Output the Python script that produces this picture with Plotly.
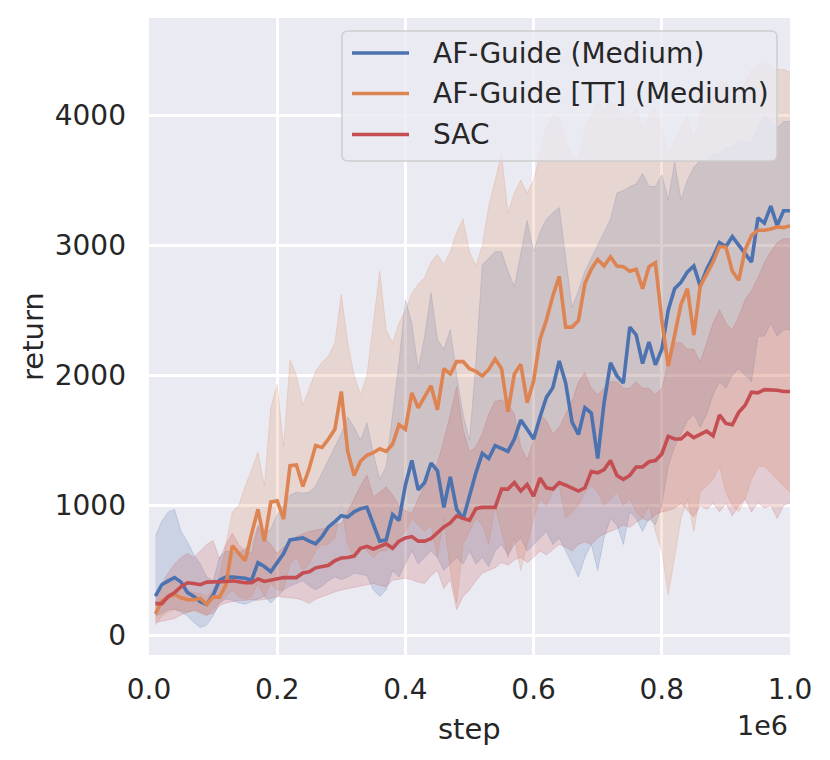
import plotly.graph_objects as go

# ---------------- data ----------------
steps = [10000 * i for i in range(1, 101)]

blue_mean = [302, 390, 420, 445, 410, 330, 300, 260, 240, 310,
             425, 450, 450, 445, 440, 425, 560, 530, 490, 560,
             630, 735, 745, 750, 725, 705, 760, 835, 875, 920,
             910, 950, 975, 985, 855, 725, 735, 930, 885, 1155,
             1345, 1120, 1175, 1325, 1265, 985, 1220, 970, 895, 1085,
             1250, 1400, 1360, 1460, 1435, 1415, 1510, 1655, 1585, 1510,
             1680, 1830, 1905, 2110, 1940, 1640, 1545, 1750, 1710, 1360,
             1790, 2095, 1995, 1940, 2370, 2310, 2090, 2255, 2080, 2200,
             2500, 2665, 2715, 2795, 2840, 2685, 2815, 2910, 3020, 2990,
             3065, 3000, 2925, 2870, 3210, 3170, 3300, 3150, 3265, 3265]
blue_lo = [150, 170, 200, 200, 180, 150, 100, 60, 80, 150,
           250, 280, 270, 250, 240, 260, 280, 300, 250, 300,
           350, 380, 400, 420, 380, 350, 380, 420, 450, 430,
           450, 480, 470, 460, 350, 300, 350, 500, 450, 550,
           650, 550, 600, 650, 600, 500, 550, 600, 550, 650,
           550, 600, 530, 650, 700, 620, 700, 750, 650, 700,
           750, 800, 700, 750, 650, 550, 450, 600, 700, 500,
           750, 900, 850, 700, 950, 900, 800, 900, 850, 1000,
           1300, 1450, 1550, 1650, 1700, 1600, 1700, 1850, 1950, 1900,
           2000, 2050, 2000, 1950, 2300, 2300, 2400, 2300, 2350, 2350]
blue_hi = [760, 880, 950, 970, 800, 720, 620, 550, 450, 420,
           600, 650, 640, 630, 670, 700, 850, 780, 820, 930,
           1000, 1080, 1100, 1094, 1100, 1150, 1250, 1350, 1450, 1550,
           1680, 1600, 1500, 1634, 1400, 1200, 1300, 1700, 2100, 2580,
           2400, 2050, 2300, 2635, 2275, 2200, 2350, 2000, 1700, 1500,
           2100, 2850, 2900, 2950, 2950, 2800, 2680, 2950, 3190, 2950,
           3100, 3200, 3250, 3290, 2900, 2520, 2650, 2800, 2900, 3000,
           3100, 3200, 3400, 3420, 3450, 3470, 3550, 3450, 3450, 3540,
           3350, 3640, 3350, 3500, 3600, 3650, 3650, 3700, 3700, 3750,
           3750, 3800, 3800, 3790, 3900, 4000, 3950, 3900, 3950, 3950]

orange_mean = [165, 265, 295, 315, 290, 275, 275, 285, 240, 295,
               295, 390, 690, 630, 575, 780, 970, 725, 1025, 1035,
               895, 1305, 1310, 1145, 1285, 1460, 1445, 1510, 1585, 1875,
               1415, 1230, 1340, 1385, 1405, 1435, 1415, 1470, 1620, 1585,
               1865, 1750, 1830, 1920, 1735, 2050, 2010, 2105, 2105, 2050,
               2030, 1995, 2045, 2125, 2050, 1720, 2010, 2085, 1790, 1955,
               2275, 2425, 2610, 2760, 2370, 2370, 2420, 2705, 2815, 2890,
               2840, 2910, 2840, 2835, 2800, 2815, 2665, 2835, 2865, 2425,
               2070, 2310, 2545, 2665, 2310, 2685, 2780, 2870, 2990, 2985,
               2800, 2730, 2965, 3075, 3115, 3115, 3125, 3140, 3135, 3150]
orange_lo = [80, 150, 180, 200, 190, 180, 190, 170, 150, 200,
             250, 300, 350, 300, 280, 300, 400, 300, 400, 350,
             350, 550, 600, 500, 550, 650, 700, 700, 750, 1000,
             700, 600, 700, 650, 600, 650, 650, 700, 750, 800,
             900, 850, 800, 850, 600, 900, 500, 250, 700, 800,
             900, 850, 700, 1000, 800, 600, 750, 500, 700, 900,
             1050, 1000, 1100, 1150, 900, 950, 1000, 1100, 1150, 1100,
             1000, 1050, 1100, 1000, 1050, 950, 900, 1000, 800, 650,
             310, 600, 900, 1050, 800, 1100, 1150, 1200, 1300, 1100,
             1000, 950, 1050, 1200, 1300, 1300, 1250, 1200, 1150, 1100]
orange_hi = [250, 350, 400, 420, 380, 350, 330, 320, 300, 350,
             450, 700, 950, 1000, 1150, 1270, 1410, 1150, 1750, 1930,
             1450, 2120, 2000, 1770, 1900, 2030, 2100, 2150, 2250, 2620,
             2250, 2000, 1850, 2000, 2400, 2800, 2350, 2250, 2400, 2500,
             2630, 2700, 2750, 2870, 2930, 2850, 2950, 3100, 3200, 2950,
             2840, 3000, 3300, 3500, 3700, 3250, 3400, 3500, 3400, 3500,
             3700, 3900, 4000, 3980, 3800, 3700, 3650, 3900, 4000, 4100,
             4050, 4100, 4050, 4000, 4000, 4050, 3900, 4000, 4050, 3900,
             3700, 3800, 3900, 4000, 3800, 4000, 4100, 4150, 4250, 4250,
             4150, 4100, 4250, 4350, 4380, 4400, 4380, 4350, 4350, 4330]

red_mean = [245, 245, 300, 330, 375, 405, 400, 390, 410, 410,
            410, 415, 420, 410, 405, 405, 435, 415, 425, 435,
            445, 445, 445, 480, 490, 520, 530, 540, 575, 595,
            600, 610, 670, 685, 665, 685, 705, 670, 725, 750,
            760, 725, 725, 745, 790, 835, 865, 920, 900, 885,
            975, 985, 985, 985, 1125, 1125, 1175, 1110, 1160, 1070,
            1210, 1135, 1125, 1175, 1155, 1135, 1110, 1135, 1260, 1250,
            1275, 1345, 1230, 1200, 1230, 1295, 1295, 1335, 1345, 1395,
            1530, 1510, 1510, 1555, 1520, 1545, 1570, 1535, 1695, 1630,
            1620, 1715, 1770, 1870, 1865, 1890, 1890, 1885, 1875, 1875]
red_lo = [100, 110, 115, 130, 160, 180, 195, 180, 160, 170,
          230, 250, 260, 270, 270, 275, 270, 275, 285, 300,
          295, 290, 285, 270, 245, 280, 300, 320, 335, 350,
          360, 375, 385, 395, 400, 385, 375, 425, 430, 440,
          430, 410, 400, 460, 500, 360, 430, 200, 300, 350,
          420, 480, 500, 520, 560, 540, 580, 600, 560, 600,
          650, 620, 660, 700, 680, 650, 700, 720, 700, 750,
          780, 800, 820, 850, 830, 870, 900, 880, 930, 950,
          960, 980, 1015, 960, 910, 1000, 970, 1015, 950, 1015,
          920, 1000, 1050, 950, 1020, 980, 1000, 900, 1000, 1020]
red_hi = [300, 400, 480, 550, 600, 630, 600, 650, 700, 730,
          590, 700, 785, 700, 650, 630, 835, 750, 700, 630,
          680, 720, 760, 780, 800, 810, 820, 830, 850, 860,
          950, 1050, 1150, 1233, 1065, 1100, 1143, 1080, 1000, 960,
          935, 1050, 1150, 1250, 1325, 1500, 1700, 1913, 1580, 1410,
          1450, 1550, 1700, 1800, 1810, 1780, 1700, 1450, 1350, 1500,
          1700, 1650, 1550, 1600, 1700, 1800, 1950, 2020, 1900, 1850,
          1900, 1950, 1950, 1900, 1900, 1950, 1900, 1900, 1850, 1900,
          2100, 2250, 2250, 2200, 2200, 2100, 2250, 2400, 2505, 2400,
          2350, 2450, 2580, 2650, 2750, 2865, 2950, 3020, 3050, 3050]

series_names = ["AF-Guide (Medium)", "AF-Guide [TT] (Medium)", "SAC"]
series_rgb = ["76,114,176", "221,132,82", "196,78,82"]
x_tick_vals = [0, 200000, 400000, 600000, 800000, 1000000]
x_tick_text = ["0.0", "0.2", "0.4", "0.6", "0.8", "1.0"]
y_tick_vals = [0, 1000, 2000, 3000, 4000]
y_tick_text = ["0", "1000", "2000", "3000", "4000"]

# ---------------- figure ----------------
FONT = "DejaVu Sans"
TXT = "#262626"
fig = go.Figure()

means = [blue_mean, orange_mean, red_mean]
lows = [blue_lo, orange_lo, red_lo]
highs = [blue_hi, orange_hi, red_hi]

# error bands first (matplotlib collections sit below lines)
for rgb, lo, hi in zip(series_rgb, lows, highs):
    fig.add_trace(go.Scatter(x=steps, y=lo, mode="lines",
                             line=dict(color=f"rgba({rgb},0.2)", width=1),
                             showlegend=False, hoverinfo="skip"))
    fig.add_trace(go.Scatter(x=steps, y=hi, mode="lines",
                             line=dict(color=f"rgba({rgb},0.2)", width=1),
                             fill="tonexty", fillcolor=f"rgba({rgb},0.2)",
                             showlegend=False, hoverinfo="skip"))
# mean lines on top
for name, rgb, m in zip(series_names, series_rgb, means):
    fig.add_trace(go.Scatter(x=steps, y=m, mode="lines", name=name,
                             line=dict(color=f"rgb({rgb})", width=3.6),
                             showlegend=False))

# page places the figure 8px from the top-left corner
OFF = 8
PLOT_L, PLOT_R, PLOT_T, PLOT_B = 149, 790, 18, 655   # screenshot coords
W, H = 822, 752
L = PLOT_L - OFF
T = PLOT_T - OFF
PW = PLOT_R - PLOT_L
PH = PLOT_B - PLOT_T
R = W - L - PW
B = H - T - PH


def px(xs):
    return (xs - PLOT_L) / PW


def py(ys):
    return (PLOT_B - ys) / PH


# manual legend (matplotlib style box with rounded corners)
x0, x1 = px(342), px(777)
y0, y1 = py(161), py(31)
rx, ry = 6 / PW, 6 / PH
path = (f"M {x0+rx},{y1} L {x1-rx},{y1} Q {x1},{y1} {x1},{y1-ry} "
        f"L {x1},{y0+ry} Q {x1},{y0} {x1-rx},{y0} L {x0+rx},{y0} "
        f"Q {x0},{y0} {x0},{y0+ry} L {x0},{y1-ry} Q {x0},{y1} {x0+rx},{y1} Z")
shapes = [dict(type="path", xref="paper", yref="paper", path=path,
               fillcolor="rgba(234,234,242,0.8)",
               line=dict(color="rgba(204,204,204,0.9)", width=1.5),
               layer="above")]
annotations = []
rows = [53, 93.5, 134.5]
for name, rgb, ry_px in zip(series_names, series_rgb, rows):
    shapes.append(dict(type="line", xref="paper", yref="paper",
                       x0=px(352), x1=px(409), y0=py(ry_px), y1=py(ry_px),
                       line=dict(color=f"rgb({rgb})", width=3.6), layer="above"))
    annotations.append(dict(text=name, xref="paper", yref="paper",
                            x=px(431), y=py(ry_px), xanchor="left",
                            yanchor="middle", showarrow=False,
                            font=dict(family=FONT, size=28, color=TXT)))

annotations += [
    dict(text="step", xref="paper", yref="paper", x=px(469), y=py(729),
         xanchor="center", yanchor="middle", showarrow=False,
         font=dict(family=FONT, size=29, color=TXT)),
    dict(text="return", xref="paper", yref="paper", x=px(33), y=py(337),
         xanchor="center", yanchor="middle", textangle=-90, showarrow=False,
         font=dict(family=FONT, size=29, color=TXT)),
    dict(text="1e6", xref="paper", yref="paper", x=1.0, y=py(725),
         xanchor="right", yanchor="middle", showarrow=False,
         font=dict(family=FONT, size=27, color=TXT)),
]

fig.update_layout(
    width=W, height=H,
    margin=dict(l=L, r=R, t=T, b=B, pad=0),
    paper_bgcolor="white", plot_bgcolor="#EAEAF2",
    font=dict(family=FONT, color=TXT),
    showlegend=False,
    shapes=shapes, annotations=annotations,
    xaxis=dict(range=[0, 1000000], tickvals=x_tick_vals, ticktext=x_tick_text,
               showgrid=True, gridcolor="white", gridwidth=2.5,
               zeroline=False, showline=False, ticks="",
               ticklabelstandoff=15,
               tickfont=dict(family=FONT, size=28, color=TXT)),
    yaxis=dict(range=[-150, 4746], tickvals=y_tick_vals, ticktext=y_tick_text,
               showgrid=True, gridcolor="white", gridwidth=2.5,
               zeroline=False, showline=False, ticks="",
               ticklabelstandoff=22,
               tickfont=dict(family=FONT, size=28, color=TXT)),
)

fig.write_html("out.html")
